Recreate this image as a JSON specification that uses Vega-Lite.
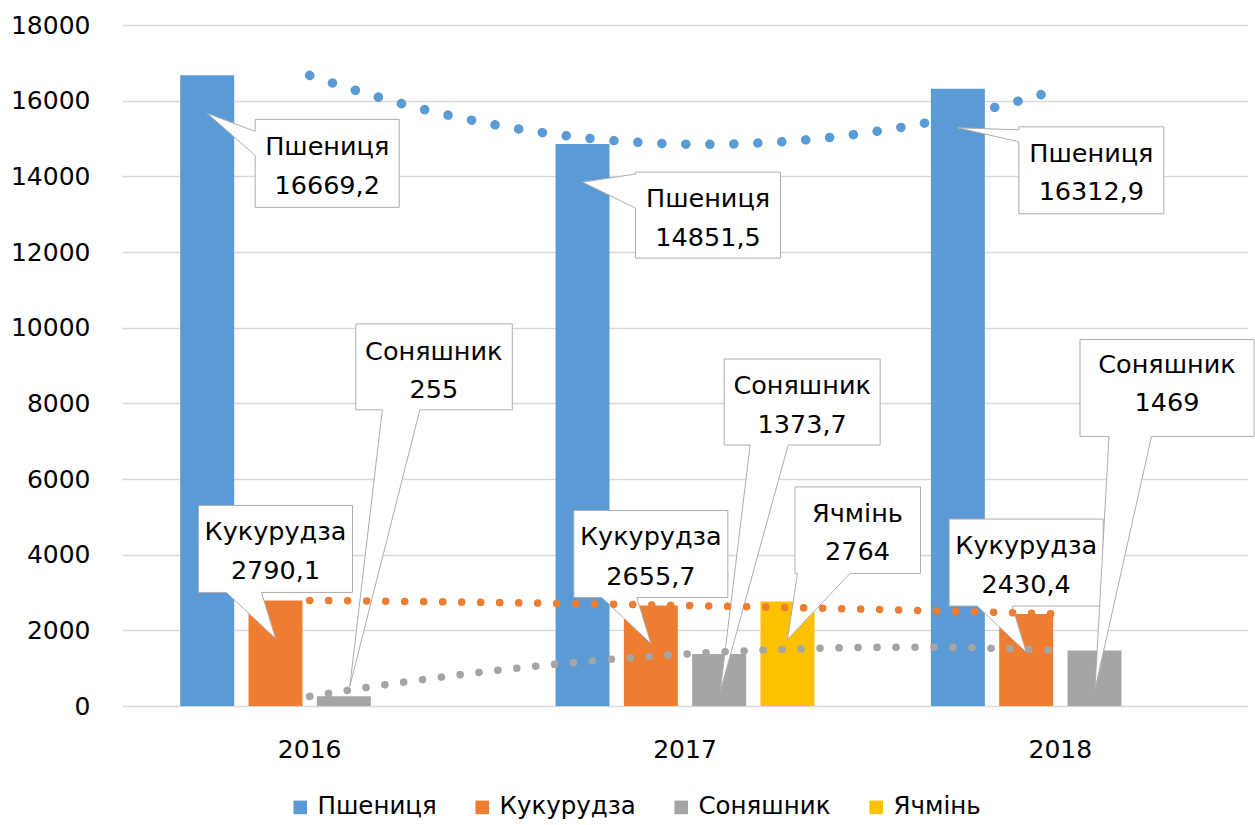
{
  "$schema": "https://vega.github.io/schema/vega-lite/v6.json",
  "autosize": {"type": "none"},
  "padding": {"left": 122, "top": 25, "right": 7, "bottom": 119},
  "width": 1126,
  "height": 681,
  "background": "white",
  "config": {
    "font": "DejaVu Sans",
    "view": {"stroke": null},
    "locale": {"number": {"decimal": ",", "thousands": " ", "grouping": [3], "currency": ["", ""]}},
    "axis": {"labelColor": "#000000", "labelFontSize": 25, "labelFont": "DejaVu Sans"},
    "legend": {"labelColor": "#000000", "labelFontSize": 24.5, "labelFont": "DejaVu Sans"},
    "text": {"font": "DejaVu Sans", "fontSize": 25.5, "color": "#000000", "align": "center", "baseline": "middle"}
  },
  "data": {
    "values": [
      {"year": 2016, "series": "Пшениця", "value": 16669.2},
      {"year": 2016, "series": "Кукурудза", "value": 2790.1},
      {"year": 2016, "series": "Соняшник", "value": 255},
      {"year": 2017, "series": "Пшениця", "value": 14851.5},
      {"year": 2017, "series": "Кукурудза", "value": 2655.7},
      {"year": 2017, "series": "Соняшник", "value": 1373.7},
      {"year": 2017, "series": "Ячмінь", "value": 2764},
      {"year": 2018, "series": "Пшениця", "value": 16312.9},
      {"year": 2018, "series": "Кукурудза", "value": 2430.4},
      {"year": 2018, "series": "Соняшник", "value": 1469}
    ]
  },
  "layer": [
    {
      "encoding": {
        "x": {
          "field": "year", "type": "ordinal",
          "scale": {"domain": [2016, 2017, 2018], "paddingInner": 0, "paddingOuter": 0},
          "axis": {"title": null, "domain": false, "ticks": false, "tickSize": 0, "labelPadding": 43, "labelBaseline": "middle", "labelAngle": 0, "grid": false}
        },
        "xOffset": {
          "field": "series", "type": "nominal",
          "scale": {"domain": ["Пшениця", "Кукурудза", "Соняшник", "Ячмінь"], "paddingInner": 0.21, "paddingOuter": 0.852}
        },
        "y": {
          "field": "value", "type": "quantitative",
          "scale": {"domain": [0, 18000], "nice": false},
          "axis": {"title": null, "domain": false, "ticks": false, "tickSize": 0, "labelPadding": 32, "values": [0, 2000, 4000, 6000, 8000, 10000, 12000, 14000, 16000, 18000], "format": "d", "grid": true, "gridColor": "#D9D9D9", "gridWidth": 1.5}
        }
      },
      "layer": [
        {
          "mark": {"type": "bar"},
          "encoding": {
            "color": {
              "field": "series", "type": "nominal",
              "scale": {"domain": ["Пшениця", "Кукурудза", "Соняшник", "Ячмінь"], "range": ["#5B9BD5", "#ED7D31", "#A5A5A5", "#FFC000"]},
              "legend": {"orient": "none", "legendX": 166, "legendY": 770, "direction": "horizontal", "title": null, "symbolType": "square", "symbolSize": 185, "symbolStrokeWidth": 0, "columnPadding": 33, "labelOffset": 5}
            }
          }
        },
        {
          "transform": [{"filter": "datum.series === 'Пшениця' && datum.year === 2016"}],
          "layer": [
            {"mark": {"type": "point", "shape": "M48,44 L192,44 L192,132 L48,132 L48,80 L0,38 L48,56 Z", "size": 4, "filled": true, "fill": "white", "stroke": "#ADADAD", "strokeWidth": 1, "opacity": 1}},
            {"mark": {"type": "text", "dx": 120, "dy": 72}, "encoding": {"text": {"field": "series"}}},
            {"mark": {"type": "text", "dx": 120, "dy": 110.5}, "encoding": {"text": {"field": "value", "type": "quantitative", "format": "~f"}}}
          ]
        },
        {
          "transform": [{"filter": "datum.series === 'Пшениця' && datum.year === 2017"}],
          "layer": [
            {"mark": {"type": "point", "shape": "M53,28 L198,28 L198,114 L53,114 L53,64 L0,38 L53,30 Z", "size": 4, "filled": true, "fill": "white", "stroke": "#ADADAD", "strokeWidth": 1, "opacity": 1}},
            {"mark": {"type": "text", "dx": 125.5, "dy": 54.5}, "encoding": {"text": {"field": "series"}}},
            {"mark": {"type": "text", "dx": 125.5, "dy": 93.5}, "encoding": {"text": {"field": "value", "type": "quantitative", "format": "~f"}}}
          ]
        },
        {
          "transform": [{"filter": "datum.series === 'Пшениця' && datum.year === 2018"}],
          "layer": [
            {"mark": {"type": "point", "shape": "M61,38 L206,38 L206,125 L61,125 L61,53 L0,39 L61,41 Z", "size": 4, "filled": true, "fill": "white", "stroke": "#ADADAD", "strokeWidth": 1, "opacity": 1}},
            {"mark": {"type": "text", "dx": 133.5, "dy": 65}, "encoding": {"text": {"field": "series"}}},
            {"mark": {"type": "text", "dx": 133.5, "dy": 103.5}, "encoding": {"text": {"field": "value", "type": "quantitative", "format": "~f"}}}
          ]
        },
        {
          "transform": [{"filter": "datum.series === 'Кукурудза'"}],
          "layer": [
            {"mark": {"type": "point", "shape": "M-77,-95 L77,-95 L77,-8 L-14,-8 L0,38 L-49,-8 L-77,-8 Z", "size": 4, "filled": true, "fill": "white", "stroke": "#ADADAD", "strokeWidth": 1, "opacity": 1}},
            {"mark": {"type": "text", "dx": 0, "dy": -68.5}, "encoding": {"text": {"field": "series"}}},
            {"mark": {"type": "text", "dx": 0, "dy": -29}, "encoding": {"text": {"field": "value", "type": "quantitative", "format": "~f"}}}
          ]
        },
        {
          "transform": [{"filter": "datum.series === 'Соняшник' && datum.year === 2016"}],
          "layer": [
            {"mark": {"type": "point", "shape": "M12,-372.5 L168.5,-372.5 L168.5,-286.5 L76,-286.5 L6,-10 L38.5,-286.5 L12,-286.5 Z", "size": 4, "filled": true, "fill": "white", "stroke": "#ADADAD", "strokeWidth": 1, "opacity": 1}},
            {"mark": {"type": "text", "dx": 90, "dy": -344.5}, "encoding": {"text": {"field": "series"}}},
            {"mark": {"type": "text", "dx": 90, "dy": -306}, "encoding": {"text": {"field": "value", "type": "quantitative", "format": "~f"}}}
          ]
        },
        {
          "transform": [{"filter": "datum.series === 'Соняшник' && datum.year === 2017"}],
          "layer": [
            {"mark": {"type": "point", "shape": "M5,-295 L161,-295 L161,-209 L69,-209 L1,38 L31,-209 L5,-209 Z", "size": 4, "filled": true, "fill": "white", "stroke": "#ADADAD", "strokeWidth": 1, "opacity": 1}},
            {"mark": {"type": "text", "dx": 83, "dy": -268.5}, "encoding": {"text": {"field": "series"}}},
            {"mark": {"type": "text", "dx": 83, "dy": -229.5}, "encoding": {"text": {"field": "value", "type": "quantitative", "format": "~f"}}}
          ]
        },
        {
          "transform": [{"filter": "datum.series === 'Соняшник' && datum.year === 2018"}],
          "layer": [
            {"mark": {"type": "point", "shape": "M-14.5,-311 L159.5,-311 L159.5,-214 L57,-214 L0.5,39 L14.5,-214 L-14.5,-214 Z", "size": 4, "filled": true, "fill": "white", "stroke": "#ADADAD", "strokeWidth": 1, "opacity": 1}},
            {"mark": {"type": "text", "dx": 72.5, "dy": -285}, "encoding": {"text": {"field": "series"}}},
            {"mark": {"type": "text", "dx": 72.5, "dy": -247}, "encoding": {"text": {"field": "value", "type": "quantitative", "format": "~f"}}}
          ]
        },
        {
          "transform": [{"filter": "datum.series === 'Ячмінь'"}],
          "layer": [
            {"mark": {"type": "point", "shape": "M7.5,-114.5 L133,-114.5 L133,-28 L62.5,-28 L0,38 L10,-28 L7.5,-28 Z", "size": 4, "filled": true, "fill": "white", "stroke": "#ADADAD", "strokeWidth": 1, "opacity": 1}},
            {"mark": {"type": "text", "dx": 70, "dy": -87.5}, "encoding": {"text": {"field": "series"}}},
            {"mark": {"type": "text", "dx": 70, "dy": -49}, "encoding": {"text": {"field": "value", "type": "quantitative", "format": "~f"}}}
          ]
        }
      ]
    },
    {
      "transform": [
        {"filter": "datum.series !== 'Ячмінь'"},
        {"regression": "value", "on": "year", "groupby": ["series"], "method": "poly", "order": 2, "extent": [2016, 2018]}
      ],
      "encoding": {
        "x": {"field": "year", "type": "quantitative", "scale": {"domain": [2015.5, 2018.5], "nice": false, "zero": false}, "axis": null},
        "y": {"field": "value", "type": "quantitative"}
      },
      "layer": [
        {
          "transform": [{"filter": "datum.series === 'Пшениця'"}],
          "mark": {"type": "line", "color": "#5B9BD5", "strokeWidth": 9.5, "strokeCap": "round", "strokeDash": [0.1, 23.9]}
        },
        {
          "transform": [{"filter": "datum.series !== 'Пшениця'"}],
          "mark": {"type": "line", "strokeWidth": 7.5, "strokeCap": "round", "strokeDash": [0.1, 18.9]},
          "encoding": {"color": {"field": "series", "type": "nominal", "legend": null}}
        }
      ]
    }
  ],
  "resolve": {"scale": {"x": "independent"}}
}
